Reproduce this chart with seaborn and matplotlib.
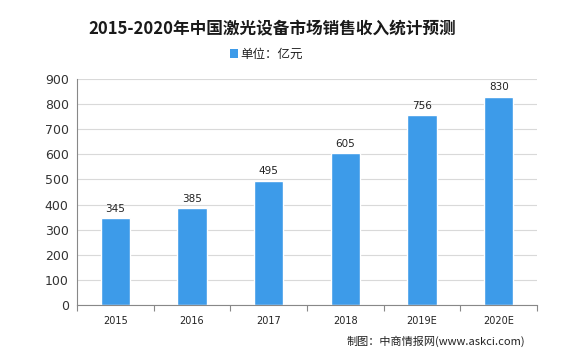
import matplotlib
matplotlib.use("Agg")
import matplotlib.pyplot as plt
import seaborn as sns
import pandas as pd
from matplotlib.patches import Rectangle

years = ["2015", "2016", "2017", "2018", "2019E", "2020E"]
values = [345, 385, 495, 605, 756, 830]
yticks = [0, 100, 200, 300, 400, 500, 600, 700, 800, 900]

sns.set_theme(style="white")
plt.rcParams['font.family'] = ['Noto Sans CJK SC', 'DejaVu Sans']

df = pd.DataFrame({"year": years, "value": values})
bar_color = "#3d9be9"

fig = plt.figure(figsize=(5.62, 3.52), dpi=100)
ax = fig.add_axes([0.137, 0.1335, 0.8185, 0.642])
sns.barplot(data=df, x="year", y="value", color=bar_color, width=0.38,
            saturation=1, ax=ax)

ax.set_ylim(0, 900)
ax.set_xlim(-0.5, len(years) - 0.5)
ax.set_yticks(yticks)
ax.set_yticklabels([str(t) for t in yticks], fontsize=9, family=['DejaVu Sans'], color="#333333")
ax.set_xticks(range(len(years)))
ax.set_xticklabels(years, fontsize=7, family=['DejaVu Sans'], color="#222222")
ax.set_xticks([i - 0.5 for i in range(len(years) + 1)], minor=True)
ax.tick_params(axis='x', which='major', length=0, pad=8)
ax.tick_params(axis='x', which='minor', length=4, color="#888888", direction='out', width=0.8)
ax.tick_params(axis='y', length=4, color="#888888", direction='out', width=0.8, pad=2)
ax.tick_params(axis='x', which='both', bottom=True)

ax.set_xlabel("")
ax.set_ylabel("")
ax.grid(axis='y', color="#d9d9d9", linewidth=0.8)
ax.set_axisbelow(True)
for s in ["top", "right"]:
    ax.spines[s].set_visible(False)
for s in ["left", "bottom"]:
    ax.spines[s].set_color("#888888")
    ax.spines[s].set_linewidth(0.8)

for i, v in enumerate(values):
    ax.text(i, v + 18, str(v), ha='center', va='bottom', fontsize=7.5,
            family=['DejaVu Sans'], color="#222222")

fig.text(0.485, 0.915, "2015-2020年中国激光设备市场销售收入统计预测", ha='center', va='center',
         fontsize=12, fontweight='bold', color="#1a1a1a")
fig.patches.append(Rectangle((0.41, 0.834), 0.014, 0.026, transform=fig.transFigure,
                             facecolor=bar_color, edgecolor='none'))
fig.text(0.428, 0.847, "单位：亿元", ha='left', va='center', fontsize=9, color="#222222")
fig.text(0.935, 0.03, "制图：中商情报网(www.askci.com)", ha='right', va='center',
         fontsize=8, color="#222222")

fig.savefig("out.png", dpi=100)
